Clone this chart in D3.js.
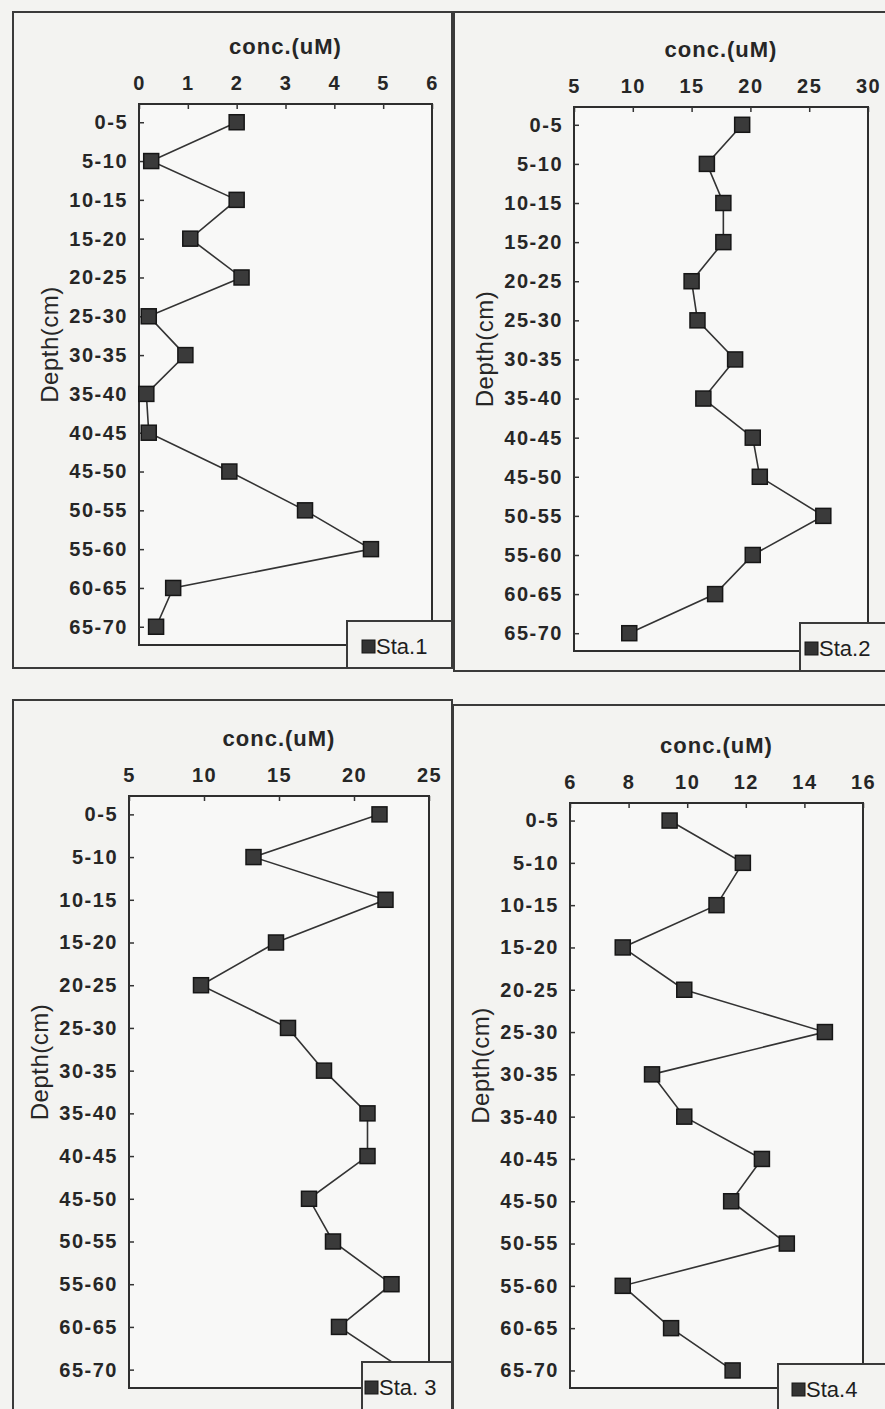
<!DOCTYPE html>
<html>
<head>
<meta charset="utf-8">
<script src="https://cdn.jsdelivr.net/npm/d3@7"></script>
<style>
  body { margin: 0; background: #f3f3f1; }
  svg { display: block; }
  .tick text {
    font-family: 'Liberation Sans', Arial, sans-serif;
    font-weight: bold;
    font-size: 20px;
    letter-spacing: 1.5px;
    fill: #262626;
  }
  .tick line { stroke: #333; stroke-width: 1.5; }
  .axis-title {
    font-family: 'Liberation Sans', Arial, sans-serif;
    font-weight: bold;
    font-size: 22px;
    letter-spacing: 1px;
    fill: #262626;
  }
  .depth-title {
    font-family: 'Liberation Sans', Arial, sans-serif;
    font-size: 24px;
    letter-spacing: 0.5px;
    fill: #262626;
  }
  .legend-text {
    font-family: 'Liberation Sans', Arial, sans-serif;
    font-size: 22px;
    fill: #1e1e1e;
  }
</style>
</head>
<body>
<div id="chart"></div>
<script>
'use strict'

// depth intervals (cm), top to bottom
const depths = ['0-5', '5-10', '10-15', '15-20', '20-25', '25-30', '30-35',
  '35-40', '40-45', '45-50', '50-55', '55-60', '60-65', '65-70']

// concentrations (uM)
const sta1Conc = [2.0, 0.25, 2.0, 1.05, 2.1, 0.2, 0.95, 0.15, 0.2, 1.85, 3.4, 4.75, 0.7, 0.35]
const sta2Conc = [19.3, 16.3, 17.7, 17.7, 15.0, 15.5, 18.7, 16.0, 20.2, 20.8, 26.2, 20.2, 17.0, 9.7]
const sta3Conc = [21.7, 13.3, 22.1, 14.8, 9.8, 15.6, 18.0, 20.9, 20.9, 17.0, 18.6, 22.5, 19.0, 23.3]
const sta4Conc = [9.4, 11.9, 11.0, 7.8, 9.9, 14.7, 8.8, 9.9, 12.55, 11.5, 13.4, 7.8, 9.45, 11.55]

const sta1Ticks = [0, 1, 2, 3, 4, 5, 6]
const sta2Ticks = [5, 10, 15, 20, 25, 30]
const sta3Ticks = [5, 10, 15, 20, 25]
const sta4Ticks = [6, 8, 10, 12, 14, 16]

const xTitle = 'conc.(uM)'
const yTitle = 'Depth(cm)'

const panels = [
  {
    label: 'Sta.1',
    values: sta1Conc,
    ticks: sta1Ticks,
    frame: { x: 13, y: 12, w: 439, h: 656 },
    plot: { x: 139, y: 104, w: 293, h: 541 },
    padding: 0.47,
    legend: { x: 347, y: 621, w: 105, h: 47, mx: 362 }
  },
  {
    label: 'Sta.2',
    values: sta2Conc,
    ticks: sta2Ticks,
    frame: { x: 454, y: 12, w: 450, h: 659 },
    plot: { x: 574, y: 107, w: 294, h: 544 },
    padding: 0.455,
    legend: { x: 800, y: 623, w: 100, h: 48, mx: 805 }
  },
  {
    label: 'Sta. 3',
    values: sta3Conc,
    ticks: sta3Ticks,
    frame: { x: 13, y: 700, w: 439, h: 740 },
    plot: { x: 129, y: 796, w: 300, h: 592 },
    padding: 0.43,
    legend: { x: 362, y: 1362, w: 90, h: 70, mx: 365 }
  },
  {
    label: 'Sta.4',
    values: sta4Conc,
    ticks: sta4Ticks,
    frame: { x: 453, y: 705, w: 450, h: 740 },
    plot: { x: 570, y: 803, w: 293, h: 585 },
    padding: 0.415,
    legend: { x: 778, y: 1364, w: 120, h: 70, mx: 792 }
  }
]

const markerSize = 15
const ink = '#2e2e2e'

const svg = d3
  .select('#chart')
  .append('svg')
  .attr('width', 885)
  .attr('height', 1409)

// outer frames first so the plots sit on top
panels.forEach((p) => {
  svg
    .append('rect')
    .attr('x', p.frame.x)
    .attr('y', p.frame.y)
    .attr('width', p.frame.w)
    .attr('height', p.frame.h)
    .attr('fill', 'none')
    .attr('stroke', '#3a3a3a')
    .attr('stroke-width', 2)
})

panels.forEach((p) => drawPanel(p))

function drawPanel (p) {
  const g = svg.append('g')
  const { plot } = p

  const x = d3
    .scaleLinear()
    .domain([p.ticks[0], p.ticks[p.ticks.length - 1]])
    .range([plot.x, plot.x + plot.w])

  const y = d3
    .scalePoint()
    .domain(depths)
    .range([plot.y, plot.y + plot.h])
    .padding(p.padding)

  g.append('rect')
    .attr('x', plot.x)
    .attr('y', plot.y)
    .attr('width', plot.w)
    .attr('height', plot.h)
    .attr('fill', '#f8f8f7')
    .attr('stroke', ink)
    .attr('stroke-width', 2)

  g.append('g')
    .attr('transform', `translate(0, ${plot.y})`)
    .call(d3.axisTop(x).tickValues(p.ticks).tickFormat(d3.format('d')).tickSize(-5).tickPadding(14))
    .call((a) => a.select('.domain').remove())

  g.append('g')
    .attr('transform', `translate(${plot.x}, 0)`)
    .call(d3.axisLeft(y).tickSize(-5).tickPadding(11))
    .call((a) => a.select('.domain').remove())

  g.append('text')
    .attr('class', 'axis-title')
    .attr('x', plot.x + plot.w / 2)
    .attr('y', plot.y - 50)
    .attr('text-anchor', 'middle')
    .text(xTitle)

  g.append('text')
    .attr('class', 'depth-title')
    .attr('transform', `translate(${plot.x - 81}, ${plot.y + plot.h / 2 - 30}) rotate(-90)`)
    .attr('text-anchor', 'middle')
    .text(yTitle)

  const points = depths.map((depth, i) => ({ depth, conc: p.values[i] }))

  const line = d3
    .line()
    .x((d) => x(d.conc))
    .y((d) => y(d.depth))

  g.append('path')
    .datum(points)
    .attr('d', line)
    .attr('fill', 'none')
    .attr('stroke', '#333')
    .attr('stroke-width', 1.6)

  g.selectAll('.marker')
    .data(points)
    .enter()
    .append('rect')
    .attr('class', 'marker')
    .attr('x', (d) => x(d.conc) - markerSize / 2)
    .attr('y', (d) => y(d.depth) - markerSize / 2)
    .attr('width', markerSize)
    .attr('height', markerSize)
    .attr('fill', '#3a3a3a')
    .attr('stroke', '#161616')
    .attr('stroke-width', 1.5)

  // legend box covers the corner of the plot, as in the scan
  const lg = p.legend
  g.append('rect')
    .attr('x', lg.x)
    .attr('y', lg.y)
    .attr('width', lg.w)
    .attr('height', lg.h)
    .attr('fill', '#f3f3f1')
    .attr('stroke', '#3a3a3a')
    .attr('stroke-width', 2)

  g.append('rect')
    .attr('x', lg.mx)
    .attr('y', lg.y + 19)
    .attr('width', 13)
    .attr('height', 13)
    .attr('fill', '#333')
    .attr('stroke', '#161616')

  g.append('text')
    .attr('class', 'legend-text')
    .attr('x', lg.mx + 14)
    .attr('y', lg.y + 33)
    .text(p.label)
}
</script>
</body>
</html>
